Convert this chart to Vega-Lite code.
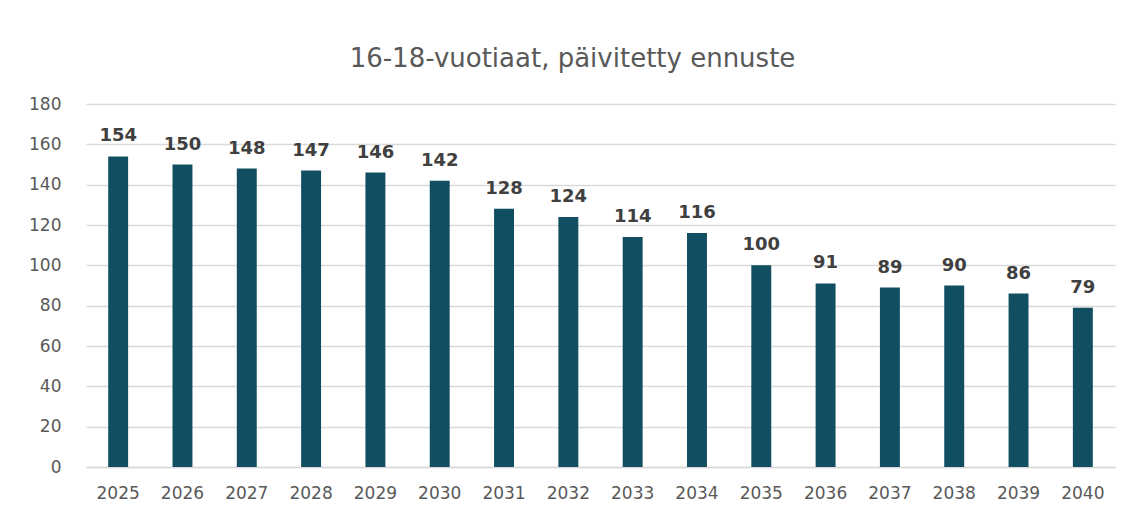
{
  "$schema": "https://vega.github.io/schema/vega-lite/v6.json",
  "autosize": {"type": "none"},
  "width": 1029,
  "height": 363,
  "padding": {"left": 86, "top": 104, "right": 13, "bottom": 47},
  "background": "white",
  "title": {
    "text": "16-18-vuotiaat, päivitetty ennuste",
    "font": "DejaVu Sans",
    "fontSize": 26,
    "fontWeight": "normal",
    "color": "#595959",
    "anchor": "middle",
    "dx": -28,
    "offset": 23
  },
  "data": {
    "values": [
      {"year": "2025", "value": 154},
      {"year": "2026", "value": 150},
      {"year": "2027", "value": 148},
      {"year": "2028", "value": 147},
      {"year": "2029", "value": 146},
      {"year": "2030", "value": 142},
      {"year": "2031", "value": 128},
      {"year": "2032", "value": 124},
      {"year": "2033", "value": 114},
      {"year": "2034", "value": 116},
      {"year": "2035", "value": 100},
      {"year": "2036", "value": 91},
      {"year": "2037", "value": 89},
      {"year": "2038", "value": 90},
      {"year": "2039", "value": 86},
      {"year": "2040", "value": 79}
    ]
  },
  "config": {
    "view": {"stroke": null},
    "axis": {"labelFont": "DejaVu Sans", "labelFontSize": 17, "labelColor": "#595959"}
  },
  "encoding": {
    "x": {
      "field": "year",
      "type": "ordinal",
      "scale": {"paddingInner": 0.69, "paddingOuter": 0.345},
      "axis": {
        "title": null,
        "labelAngle": 0,
        "ticks": false,
        "domain": true,
        "domainColor": "#D9D9D9",
        "domainWidth": 1.5,
        "labelPadding": 18
      }
    },
    "y": {
      "field": "value",
      "type": "quantitative",
      "scale": {"domain": [0, 180]},
      "axis": {
        "title": null,
        "values": [0, 20, 40, 60, 80, 100, 120, 140, 160, 180],
        "ticks": false,
        "domain": false,
        "gridColor": "#D9D9D9",
        "gridWidth": 1.5,
        "labelPadding": 25
      }
    }
  },
  "layer": [
    {"mark": {"type": "bar", "color": "#114E61"}},
    {
      "mark": {
        "type": "text",
        "baseline": "alphabetic",
        "dy": -15,
        "font": "DejaVu Sans",
        "fontSize": 18,
        "fontWeight": "bold",
        "color": "#404040"
      },
      "encoding": {"text": {"field": "value", "type": "quantitative"}}
    }
  ]
}
